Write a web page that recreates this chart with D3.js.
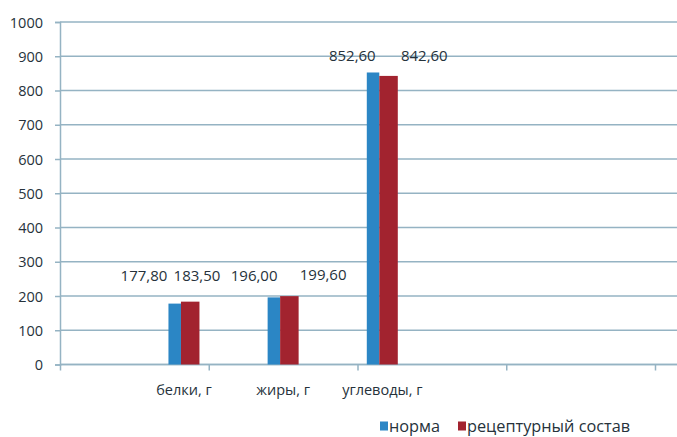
<!DOCTYPE html>
<html>
<head>
<meta charset="utf-8">
<script src="https://cdn.jsdelivr.net/npm/d3@7"></script>
<style>
  body { margin: 0; background: #fff; }
  svg text { font-family: "Open Sans", "DejaVu Sans", sans-serif; fill: #26323b; }
</style>
</head>
<body>
<svg id="chart" width="677" height="437"></svg>
<script>
"use strict";
// data
const categories = ["белки, г", "жиры, г", "углеводы, г"];
const seriesNames = ["норма", "рецептурный состав"];
const normValues = [177.8, 196.0, 852.6];
const recipeValues = [183.5, 199.6, 842.6];
const yTicks = [0, 100, 200, 300, 400, 500, 600, 700, 800, 900, 1000];
const xTicks = [0, 1.5, 3, 4.5, 6];

const COLORS = ["#2b86c5", "#a2232f"];
const GRID = "#95b3c3";

const svg = d3.select("#chart");
const margin = { top: 22, right: 0, bottom: 72, left: 60 };
const width = +svg.attr("width") - margin.left - margin.right;
const height = +svg.attr("height") - margin.top - margin.bottom;

// category slots: axis runs 0..6 in category units, groups sit at i + 1.25
const x = d3.scaleLinear().domain([0, 6]).range([0, 595]);
const y = d3.scaleLinear().domain([0, 1000]).range([height - 0.5, 0]);

const g = svg.append("g").attr("transform", `translate(${margin.left},${margin.top})`);

// grid lines
g.append("g")
  .selectAll("line")
  .data(yTicks)
  .join("line")
  .attr("x1", 0)
  .attr("x2", width)
  .attr("y1", d => y(d))
  .attr("y2", d => y(d))
  .style("stroke", GRID)
  .style("stroke-width", 1.5);

// y axis
let yAxis = d3.axisLeft(y).tickValues(yTicks).tickSize(5).tickPadding(12).tickFormat(d3.format("d"));
let yg = g.append("g").call(yAxis);
yg.select(".domain").style("stroke", GRID).style("stroke-width", 1.5);
yg.selectAll(".tick line").style("stroke", GRID).style("stroke-width", 1.5);
yg.selectAll("text").style("font-size", "14.5px").attr("dy", "0.35em");

// x axis
let xAxis = d3.axisBottom(x).tickValues(xTicks).tickSize(6).tickFormat("");
let xg = g.append("g").attr("transform", `translate(0,${y(0)})`).call(xAxis);
xg.select(".domain").attr("d", `M0,0H${width}`).style("stroke", GRID).style("stroke-width", 1.5);
xg.selectAll(".tick line").style("stroke", GRID).style("stroke-width", 1.5);

const center = i => x(i + 1.25);

// bars
const bars = g.append("g");
bars.selectAll(".norm")
  .data(normValues)
  .join("rect")
  .attr("x", (d, i) => center(i) - 15.5)
  .attr("width", 12.5)
  .attr("y", d => y(d))
  .attr("height", d => y(0) - y(d))
  .style("fill", COLORS[0]);
bars.selectAll(".recipe")
  .data(recipeValues)
  .join("rect")
  .attr("x", (d, i) => center(i) - 3)
  .attr("width", 18.5)
  .attr("y", d => y(d))
  .attr("height", d => y(0) - y(d))
  .style("fill", COLORS[1]);

// value labels (moved by hand in the original)
const fmt = v => v.toFixed(2).replace(".", ",");
const normNudge = [[-40, -28], [-29, -22], [-30, -17]];
const recipeNudge = [[13, -26], [40, -21], [42, -20]];
const labels = g.append("g").style("font-size", "15px").attr("text-anchor", "middle");
labels.selectAll(".nl")
  .data(normValues)
  .join("text")
  .attr("x", (d, i) => center(i) + normNudge[i][0])
  .attr("y", (d, i) => y(d) + normNudge[i][1])
  .attr("dy", "0.35em")
  .text(fmt);
labels.selectAll(".rl")
  .data(recipeValues)
  .join("text")
  .attr("x", (d, i) => center(i) + recipeNudge[i][0])
  .attr("y", (d, i) => y(d) + recipeNudge[i][1])
  .attr("dy", "0.35em")
  .text(fmt);

// category labels
g.append("g")
  .selectAll("text")
  .data(categories)
  .join("text")
  .attr("x", (d, i) => center(i))
  .attr("y", y(0) + 25)
  .attr("dy", "0.35em")
  .attr("text-anchor", "middle")
  .style("font-size", "14.5px")
  .text(d => d);

// legend
const legend = svg.append("g").attr("transform", "translate(380,426)");
const legendX = [0, 78];
const items = legend.selectAll("g")
  .data(seriesNames)
  .join("g")
  .attr("transform", (d, i) => `translate(${legendX[i]},0)`);
items.append("rect")
  .attr("x", 0).attr("y", -4.5)
  .attr("width", 8).attr("height", 9)
  .style("fill", (d, i) => COLORS[i]);
items.append("text")
  .attr("x", 9).attr("dy", "0.35em")
  .style("font-size", "16.3px")
  .text(d => d);
</script>
</body>
</html>
